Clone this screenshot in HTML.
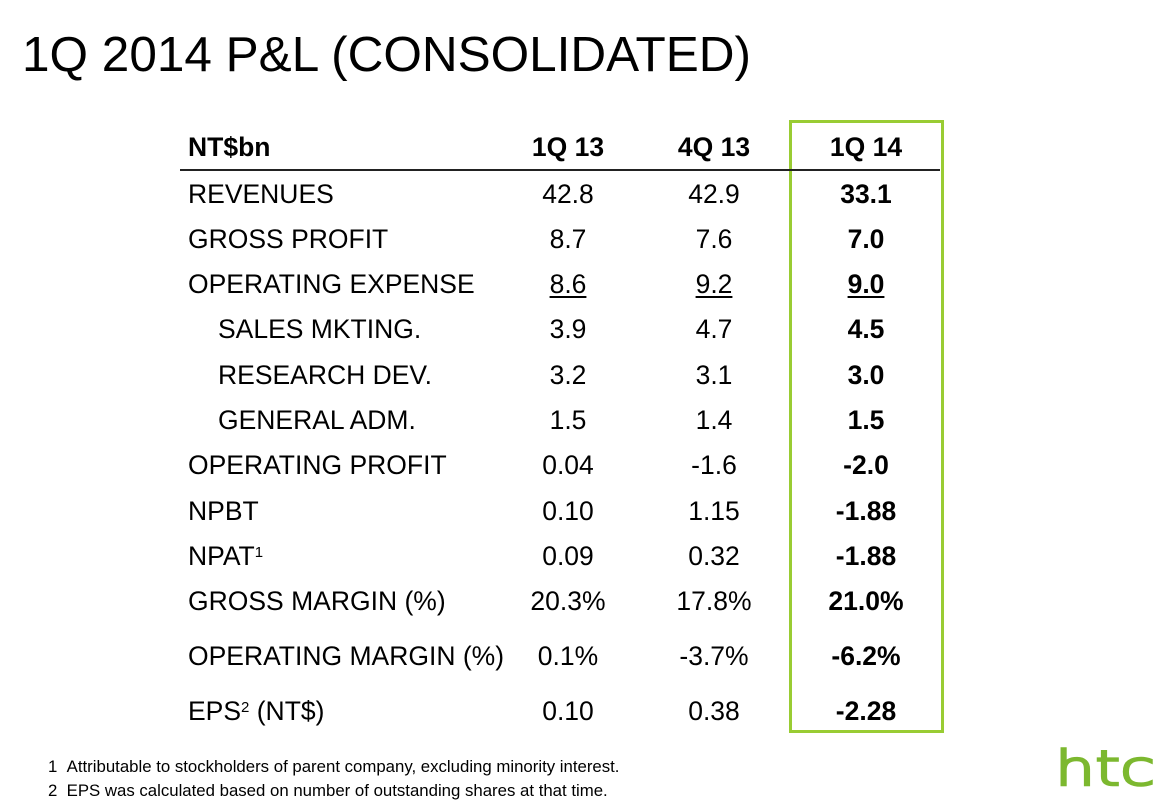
<!DOCTYPE html>
<html><head><meta charset="utf-8"><style>
body{margin:0;width:1171px;height:810px;background:#fff;position:relative;overflow:hidden;font-family:"Liberation Sans",Arial,sans-serif;color:#000}
.t{position:absolute;white-space:nowrap}
.r{position:absolute;left:0;width:1171px;height:30px;font-size:26.5px;line-height:30px}
.r span{position:absolute;white-space:nowrap}
.l{left:188px}.i{left:218px}
.c1,.c2,.c3{width:160px;text-align:center}
.c1{left:488px}.c2{left:634px}.c3{left:786px;font-weight:bold}
sup{font-size:15px;vertical-align:8px;line-height:0}
u{text-decoration:underline;text-underline-offset:3px;text-decoration-thickness:1.5px}
</style></head><body>
<div class="t" style="left:22px;top:26px;font-size:49.5px;line-height:58px">1Q 2014 P&amp;L (CONSOLIDATED)</div>
<div style="position:absolute;left:789px;top:120px;width:149px;height:607px;border:3px solid #99cc33"></div>
<div style="position:absolute;left:180px;top:169px;width:760px;height:2px;background:#222"></div>
<div class="r" style="top:132px;font-weight:bold"><span class="l">NT$bn</span><span class="c1">1Q 13</span><span class="c2">4Q 13</span><span class="c3">1Q 14</span></div>
<div class="r" style="top:179px"><span class="l">REVENUES</span><span class="c1">42.8</span><span class="c2">42.9</span><span class="c3">33.1</span></div>
<div class="r" style="top:224px"><span class="l">GROSS PROFIT</span><span class="c1">8.7</span><span class="c2">7.6</span><span class="c3">7.0</span></div>
<div class="r" style="top:269px"><span class="l">OPERATING EXPENSE</span><span class="c1"><u>8.6</u></span><span class="c2"><u>9.2</u></span><span class="c3"><u>9.0</u></span></div>
<div class="r" style="top:314px"><span class="i">SALES MKTING.</span><span class="c1">3.9</span><span class="c2">4.7</span><span class="c3">4.5</span></div>
<div class="r" style="top:360px"><span class="i">RESEARCH DEV.</span><span class="c1">3.2</span><span class="c2">3.1</span><span class="c3">3.0</span></div>
<div class="r" style="top:405px"><span class="i">GENERAL ADM.</span><span class="c1">1.5</span><span class="c2">1.4</span><span class="c3">1.5</span></div>
<div class="r" style="top:450px"><span class="l">OPERATING PROFIT</span><span class="c1">0.04</span><span class="c2">-1.6</span><span class="c3">-2.0</span></div>
<div class="r" style="top:496px"><span class="l">NPBT</span><span class="c1">0.10</span><span class="c2">1.15</span><span class="c3">-1.88</span></div>
<div class="r" style="top:541px"><span class="l">NPAT<sup>1</sup></span><span class="c1">0.09</span><span class="c2">0.32</span><span class="c3">-1.88</span></div>
<div class="r" style="top:586px"><span class="l">GROSS MARGIN (%)</span><span class="c1">20.3%</span><span class="c2">17.8%</span><span class="c3">21.0%</span></div>
<div class="r" style="top:641px"><span class="l">OPERATING MARGIN (%)</span><span class="c1">0.1%</span><span class="c2">-3.7%</span><span class="c3">-6.2%</span></div>
<div class="r" style="top:696px"><span class="l">EPS<sup>2</sup> (NT$)</span><span class="c1">0.10</span><span class="c2">0.38</span><span class="c3">-2.28</span></div>
<div class="t" style="left:48px;top:757px;font-size:16.8px;line-height:20px">1&nbsp;&nbsp;Attributable to stockholders of parent company, excluding minority interest.</div>
<div class="t" style="left:48px;top:781px;font-size:16.8px;line-height:20px">2&nbsp;&nbsp;EPS was calculated based on number of outstanding shares at that time.</div>
<svg style="position:absolute;left:1050px;top:745px" width="115" height="50"><text x="5" y="40" font-family="DejaVu Sans,sans-serif" font-weight="200" font-size="48" fill="#7cb82f" stroke="#7cb82f" stroke-width="2.5" textLength="100" lengthAdjust="spacingAndGlyphs">htc</text></svg>
</body></html>
